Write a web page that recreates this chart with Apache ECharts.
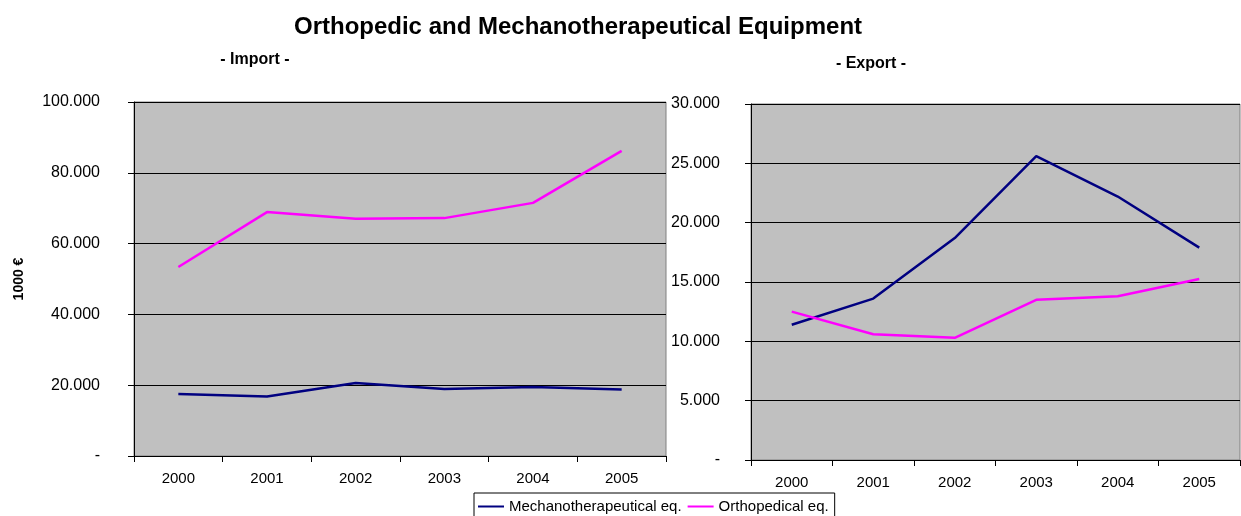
<!DOCTYPE html>
<html lang="en">
  <head>
    <meta charset="UTF-8" />
    <title>Orthopedic and Mechanotherapeutical Equipment</title>
    <style>
      html, body { margin: 0; padding: 0; background: #fff; }
      #main { width: 1241px; height: 516px; }
    </style>
  </head>
  <body>
    <div id="main"></div>
    <script src="https://cdn.jsdelivr.net/npm/echarts@6/dist/echarts.min.js"></script>
    <script>
      // years on both charts
      var years = ["2000", "2001", "2002", "2003", "2004", "2005"];
      // import, 1000 EUR
      var importMechano = [17500, 16800, 20600, 18900, 19500, 18800];
      var importOrtho = [53400, 68900, 67000, 67200, 71500, 86200];
      // export, 1000 EUR
      var exportMechano = [11400, 13600, 18700, 25600, 22200, 17900];
      var exportOrtho = [12500, 10600, 10300, 13500, 13800, 15250];

      var font = "Liberation Sans, Arial, sans-serif";

      // 100000 -> "100.000", 0 -> "-"
      function fmt(v) {
        if (v === 0) return "-";
        return String(v).replace(/\B(?=(\d{3})+(?!\d))/g, ".");
      }

      function xAxis(idx) {
        return {
          type: "category",
          gridIndex: idx,
          data: years,
          boundaryGap: true,
          axisLine: { lineStyle: { color: "#000", width: 1 } },
          axisTick: { show: true, inside: false, length: 6, lineStyle: { color: "#000" } },
          axisLabel: { color: "#000", fontFamily: font, fontSize: 15, margin: 15 }
        };
      }
      function yAxis(idx, max, interval, name, margin) {
        return {
          type: "value",
          gridIndex: idx,
          min: 0,
          max: max,
          interval: interval,
          name: name,
          nameLocation: "middle",
          nameGap: 108,
          nameTextStyle: { color: "#000", fontFamily: font, fontSize: 14, fontWeight: "bold" },
          axisLine: { show: true, lineStyle: { color: "#000", width: 1 } },
          axisTick: { show: true, length: 6, lineStyle: { color: "#000" } },
          axisLabel: { color: "#000", fontFamily: font, fontSize: 16, margin: margin, formatter: fmt },
          splitLine: { lineStyle: { color: "#000", width: 1 } }
        };
      }

      var myChart = echarts.init(document.getElementById("main"));
      var option = {
        animation: false,
        backgroundColor: "#fff",
        title: [
          {
            text: "Orthopedic and Mechanotherapeutical Equipment",
            left: 573, top: 10, textAlign: "center",
            textStyle: { fontFamily: font, fontSize: 24, fontWeight: "bold", color: "#000" }
          },
          {
            text: "- Import -",
            left: 250, top: 47, textAlign: "center",
            textStyle: { fontFamily: font, fontSize: 16, fontWeight: "bold", color: "#000" }
          },
          {
            text: "- Export -",
            left: 866, top: 51, textAlign: "center",
            textStyle: { fontFamily: font, fontSize: 16, fontWeight: "bold", color: "#000" }
          }
        ],
        legend: {
          left: 474, top: 493,
          itemGap: 6,
          padding: [6, 6, 10, 4],
          borderColor: "#000",
          borderWidth: 1,
          icon: "rect",
          itemWidth: 26,
          itemHeight: 2,
          textStyle: { fontFamily: font, fontSize: 15, color: "#000" },
          data: ["Mechanotherapeutical eq.", "Orthopedical eq."]
        },
        grid: [
          { left: 134, top: 102, width: 532, height: 354, show: true, backgroundColor: "#C0C0C0", borderColor: "#808080", borderWidth: 1 },
          { left: 751, top: 104, width: 489, height: 356, show: true, backgroundColor: "#C0C0C0", borderColor: "#808080", borderWidth: 1 }
        ],
        xAxis: [xAxis(0), xAxis(1)],
        yAxis: [yAxis(0, 100000, 20000, "1000 €", 34), yAxis(1, 30000, 5000, "", 31)],
        series: [
          {
            name: "Mechanotherapeutical eq.", type: "line", xAxisIndex: 0, yAxisIndex: 0,
            data: importMechano, showSymbol: false, symbol: "none",
            lineStyle: { color: "#000080", width: 2.5 }, itemStyle: { color: "#000080" }
          },
          {
            name: "Orthopedical eq.", type: "line", xAxisIndex: 0, yAxisIndex: 0,
            data: importOrtho, showSymbol: false, symbol: "none",
            lineStyle: { color: "#FF00FF", width: 2.5 }, itemStyle: { color: "#FF00FF" }
          },
          {
            name: "Mechanotherapeutical eq.", type: "line", xAxisIndex: 1, yAxisIndex: 1,
            data: exportMechano, showSymbol: false, symbol: "none",
            lineStyle: { color: "#000080", width: 2.5 }, itemStyle: { color: "#000080" }
          },
          {
            name: "Orthopedical eq.", type: "line", xAxisIndex: 1, yAxisIndex: 1,
            data: exportOrtho, showSymbol: false, symbol: "none",
            lineStyle: { color: "#FF00FF", width: 2.5 }, itemStyle: { color: "#FF00FF" }
          }
        ]
      };
      myChart.setOption(option);
    </script>
  </body>
</html>
